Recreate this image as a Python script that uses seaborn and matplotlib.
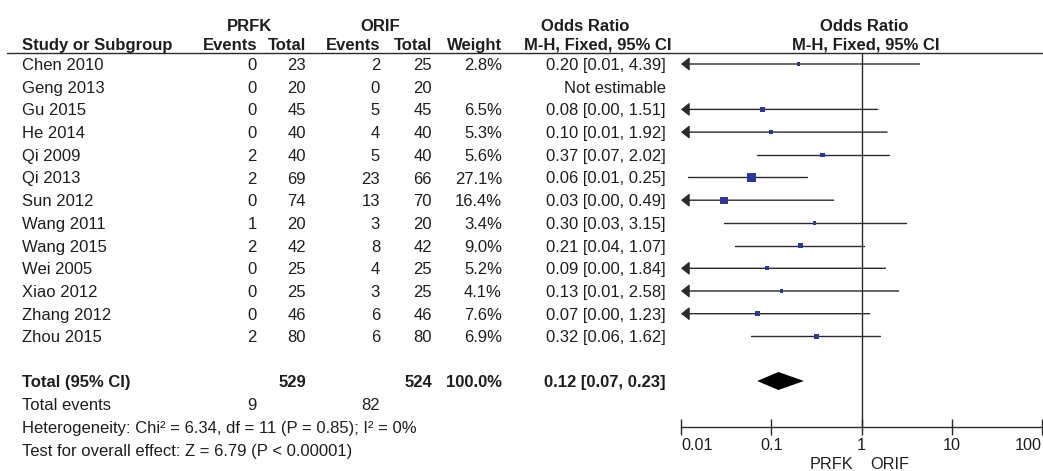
import numpy as np
import pandas as pd
import seaborn as sns
import matplotlib
matplotlib.use("Agg")
import matplotlib.pyplot as plt
from matplotlib.ticker import NullLocator

# 数据
studies = ["Chen 2010", "Geng 2013", "Gu 2015", "He 2014", "Qi 2009", "Qi 2013", "Sun 2012",
           "Wang 2011", "Wang 2015", "Wei 2005", "Xiao 2012", "Zhang 2012", "Zhou 2015"]
prfk_events = [0, 0, 0, 0, 2, 2, 0, 1, 2, 0, 0, 0, 2]
prfk_total = [23, 20, 45, 40, 40, 69, 74, 20, 42, 25, 25, 46, 80]
orif_events = [2, 0, 5, 4, 5, 23, 13, 3, 8, 4, 3, 6, 6]
orif_total = [25, 20, 45, 40, 40, 66, 70, 20, 42, 25, 25, 46, 80]
weight = [2.8, np.nan, 6.5, 5.3, 5.6, 27.1, 16.4, 3.4, 9.0, 5.2, 4.1, 7.6, 6.9]
odds = [0.20, np.nan, 0.08, 0.10, 0.37, 0.06, 0.03, 0.30, 0.21, 0.09, 0.13, 0.07, 0.32]
ci_low = [0.008, np.nan, 0.004, 0.008, 0.07, 0.012, 0.002, 0.03, 0.04, 0.004, 0.008, 0.004, 0.06]
ci_high = [4.39, np.nan, 1.51, 1.92, 2.02, 0.25, 0.49, 3.15, 1.07, 1.84, 2.58, 1.23, 1.62]

total_prfk, total_orif = 529, 524
total_weight = 100.0
events_prfk, events_orif = 9, 82
total_or, total_low, total_high = 0.12, 0.07, 0.23
heterogeneity = "Heterogeneity: Chi² = 6.34, df = 11 (P = 0.85); I² = 0%"
overall = "Test for overall effect: Z = 6.79 (P < 0.00001)"
xticks = [0.01, 0.1, 1, 10, 100]
xtick_labels = ["0.01", "0.1", "1", "10", "100"]

# 版式 (像素坐标)
W, H = 1043, 471
row0, row_h = 64, 22.7
rows_y = [row0 + row_h * i for i in range(len(studies))]
y_total, y_events, y_het, y_test = 381, 404, 427, 450
base = 6  # 基线相对行中心
fs = 12
txt_c = "#1e1e1e"
line_c = "#2a2a2a"
sq_c = "#2b389a"

df = pd.DataFrame({"study": studies, "odds": odds, "low": ci_low, "high": ci_high,
                   "weight": weight, "y": rows_y})

sns.set_theme(style="white")
plt.rcParams["font.family"] = ["Liberation Sans", "DejaVu Sans"]

fig = plt.figure(figsize=(W / 100, H / 100), dpi=100)
ax = fig.add_axes([0, 0, 1, 1])
ax.set_xlim(0, W)
ax.set_ylim(H, 0)
ax.axis("off")


def t(x, y, s, ha="right", bold=False, size=fs):
    ax.text(x, y, s, ha=ha, va="baseline", fontsize=size, color=txt_c,
            fontweight="bold" if bold else "normal")


# 表头
t(249, 31, "PRFK", ha="center", bold=True)
t(380, 31, "ORIF", ha="center", bold=True)
t(585, 31, "Odds Ratio", ha="center", bold=True)
t(864, 31, "Odds Ratio", ha="center", bold=True)
t(22, 50, "Study or Subgroup", ha="left", bold=True)
t(257, 50, "Events", bold=True)
t(306, 50, "Total", bold=True)
t(380, 50, "Events", bold=True)
t(432, 50, "Total", bold=True)
t(502, 50, "Weight", bold=True)
t(598, 50, "M-H, Fixed, 95% CI", ha="center", bold=True)
t(866, 50, "M-H, Fixed, 95% CI", ha="center", bold=True)
ax.plot([7, W], [52.7, 52.7], color=line_c, lw=1.0)

# 各研究
for i, r in df.iterrows():
    yb = r["y"] + base
    t(22, yb, r["study"], ha="left")
    t(257, yb, str(prfk_events[i]))
    t(306, yb, str(prfk_total[i]))
    t(380, yb, str(orif_events[i]))
    t(432, yb, str(orif_total[i]))
    if np.isnan(r["odds"]):
        t(666, yb, "Not estimable")
    else:
        t(502, yb, f"{r['weight']:.1f}%")
        t(666, yb, f"{r['odds']:.2f} [{r['low']:.2f}, {r['high']:.2f}]")

# 合计
t(22, y_total + base, "Total (95% CI)", ha="left", bold=True)
t(306, y_total + base, str(total_prfk), bold=True)
t(432, y_total + base, str(total_orif), bold=True)
t(502, y_total + base, f"{total_weight:.1f}%", bold=True)
t(666, y_total + base, f"{total_or:.2f} [{total_low:.2f}, {total_high:.2f}]", bold=True)
t(22, y_events + base, "Total events", ha="left")
t(257, y_events + base, str(events_prfk))
t(380, y_events + base, str(events_orif))
t(22, y_het + base, heterogeneity, ha="left")
t(22, y_test + base, overall, ha="left")

# 森林图
x0, x1 = 681, 1042
y_top, y_axis = 52.7, 426.5
fax = fig.add_axes([x0 / W, (H - y_axis) / H, (x1 - x0) / W, (y_axis - y_top) / H])
fax.set_xscale("log")
fax.set_xlim(0.01, 100)
fax.set_ylim(y_axis, y_top)
fax.patch.set_alpha(0)
for s in ["top", "left", "right"]:
    fax.spines[s].set_visible(False)
fax.spines["bottom"].set_color(line_c)
fax.spines["bottom"].set_linewidth(1.0)
fax.set_yticks([])
fax.set_xticks(xticks)
fax.set_xticklabels(xtick_labels)
fax.xaxis.set_minor_locator(NullLocator())
fax.tick_params(axis="x", direction="inout", length=11, width=1.0, pad=3,
                labelsize=11.7, colors=line_c, labelcolor=txt_c, bottom=True)
labs = fax.get_xticklabels()
labs[0].set_ha("left")
labs[-1].set_ha("right")

fax.axvline(1, color=line_c, lw=1.0)

for _, r in df.dropna().iterrows():
    if r["low"] < 0.01:
        fax.annotate("", xy=(0.01, r["y"]), xytext=(r["high"], r["y"]),
                     arrowprops=dict(arrowstyle="-|>,head_length=0.5,head_width=0.4",
                                     mutation_scale=10, color=line_c, lw=1.0,
                                     shrinkA=0, shrinkB=0))
    else:
        fax.plot([r["low"], r["high"]], [r["y"], r["y"]], color=line_c, lw=1.0)

sns.scatterplot(data=df.dropna(), x="odds", y="y", size="weight", sizes=(5, 45),
                marker="s", color=sq_c, edgecolor="none", legend=False, ax=fax, zorder=3)
fax.set_xlabel("")
fax.set_ylabel("")

fax.fill([total_low, total_or, total_high, total_or],
         [y_total, y_total - 9, y_total, y_total + 9], color="black", lw=0)

t(853, 469, "PRFK", size=11.7)
t(870, 469, "ORIF", ha="left", size=11.7)

fig.savefig("out.png", dpi=100)
